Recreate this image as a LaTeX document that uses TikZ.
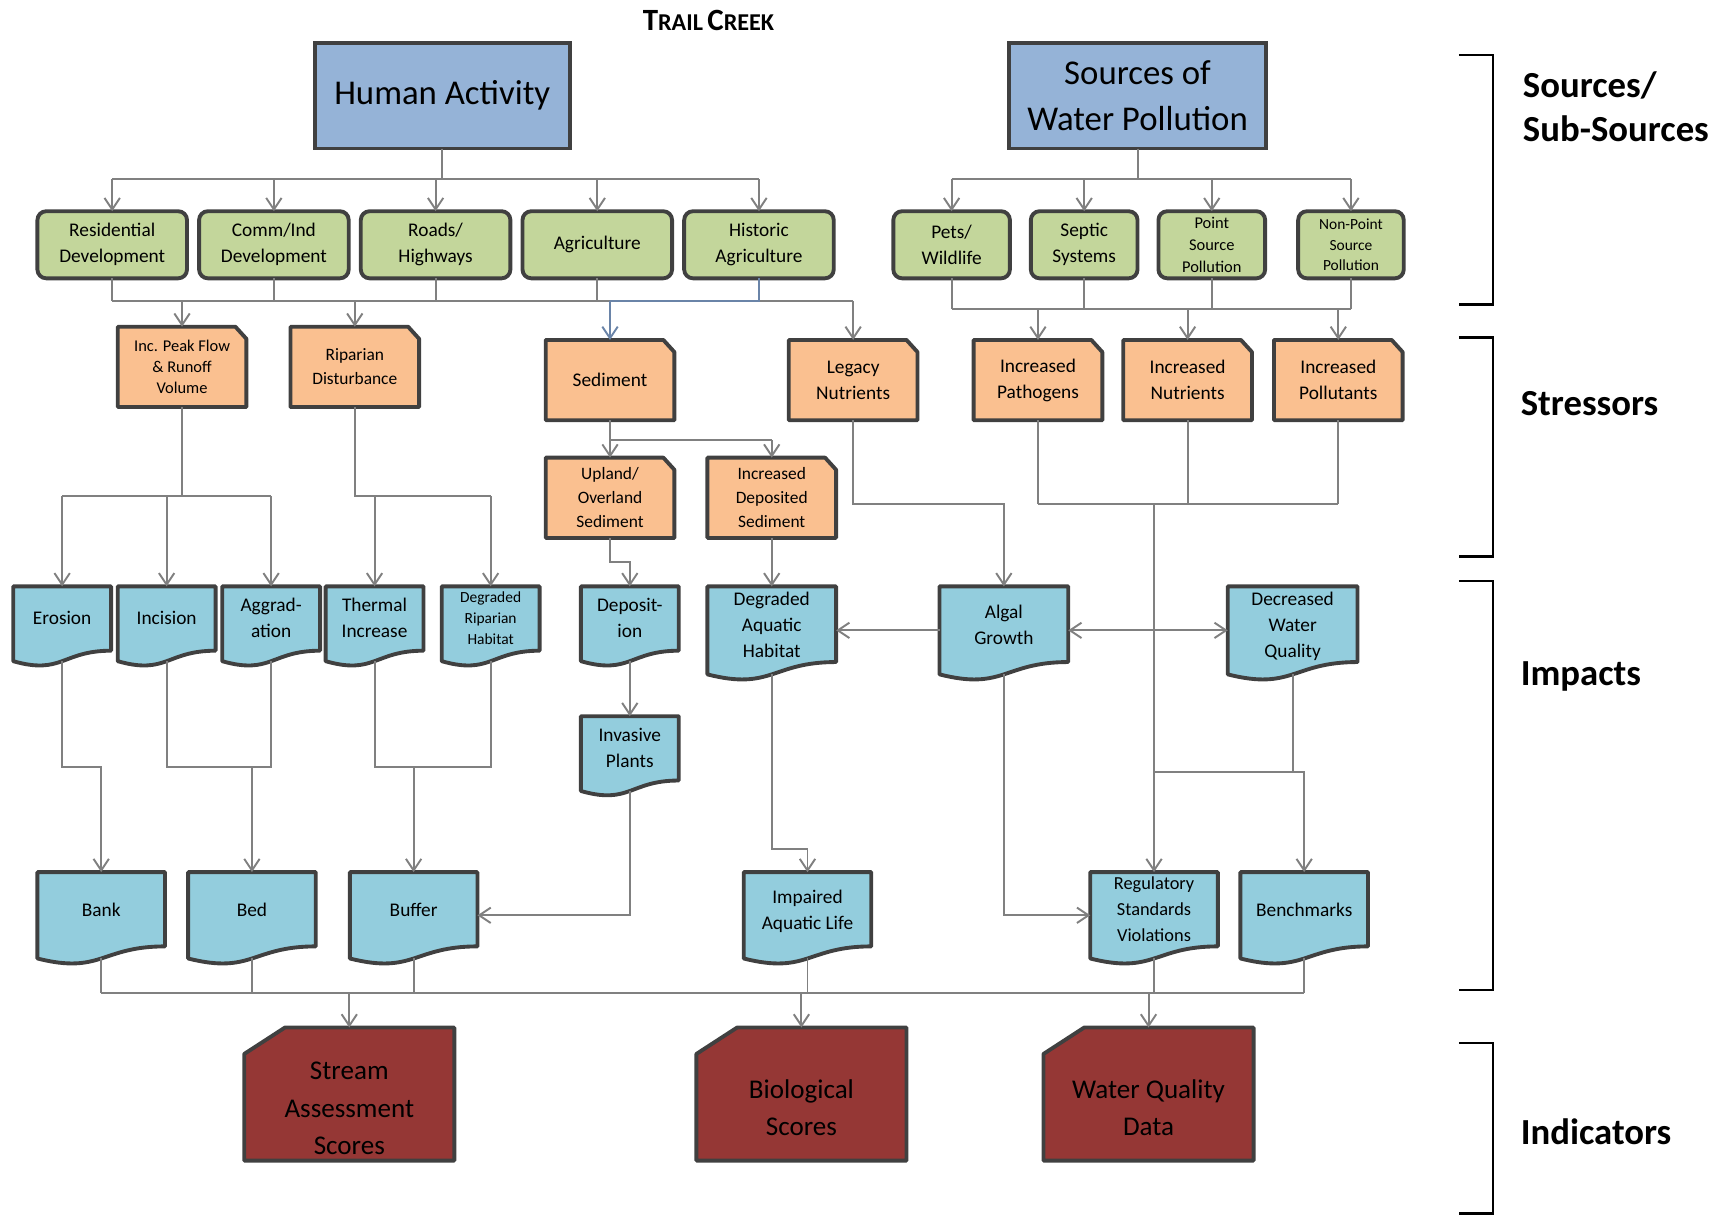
\documentclass[tikz,border=0pt]{standalone}
\usepackage{fontspec}
\setmainfont{Carlito}
\usepackage{tikz}
\usetikzlibrary{arrows.meta}
\usetikzlibrary{calc,backgrounds,positioning}

\definecolor{headblue}{HTML}{95B3D7}
\definecolor{subgreen}{HTML}{C3D69B}
\definecolor{stressorange}{HTML}{FAC090}
\definecolor{impactblue}{HTML}{93CDDD}
\definecolor{indred}{HTML}{953735}
\definecolor{boxline}{HTML}{404040}
\definecolor{linkgray}{HTML}{808080}
\definecolor{linkblue}{HTML}{6A84A8}

\newcommand{\redtop}{\rule{0pt}{24pt}}

\begin{document}
\begin{tikzpicture}[x=0.02cm,y=-0.02cm,>={Straight Barb[length=0.21cm,width=0.28cm]},node distance=0.22cm,
  box/.style={align=center,inner sep=1pt,outer sep=0pt},
  head/.style={box,draw=boxline,line width=2pt,fill=headblue,minimum width=4.64cm,minimum height=1.92cm,font=\fontsize{18}{24}\selectfont},
  sub/.style={box,draw=boxline,line width=2pt,fill=subgreen,rounded corners=0.16cm,minimum width=2.72cm,minimum height=1.22cm,font=\fontsize{10}{13.5}\selectfont},
  stress/.style={box,minimum width=2.34cm,minimum height=1.46cm,font=\fontsize{10}{13.5}\selectfont},
  impact/.style={box,minimum width=1.78cm,minimum height=1.36cm,font=\fontsize{10}{13.5}\selectfont,execute at end node={\rule[-6pt]{0pt}{6pt}}},
  bigimpact/.style={impact,minimum width=2.34cm,minimum height=1.6cm},
  rowtwo/.style={impact,minimum width=2.32cm,minimum height=1.57cm},
  indic/.style={box,minimum width=3.82cm,minimum height=2.42cm,font=\fontsize{14}{19.3}\selectfont},
  outline/.style={draw=boxline,line width=2pt,line join=round},
  link/.style={draw=linkgray,line width=1pt},
  flow/.style={link,->},
  bracket/.style={draw=black,line width=1.4pt},
  side/.style={anchor=west,align=left,inner sep=0pt,font=\fontsize{19}{23}\selectfont\bfseries}]

\useasboundingbox (0,0) rectangle (1568,1104);

\node[font=\bfseries] (title) at (644,19) {{\fontsize{16}{16}\selectfont T}{\fontsize{12.5}{16}\selectfont RAIL} {\fontsize{16}{16}\selectfont C}{\fontsize{12.5}{16}\selectfont REEK}};

% sources
\node[head] (ha) at (402,87) {Human Activity};
\node[head,minimum width=4.68cm] (swp) at (1034,87) {Sources of\\Water Pollution};

% sub-sources
\node[sub] (res) at (102,222.5) {Residential\\Development};
\node[sub,right=of res] (com) {Comm/Ind\\Development};
\node[sub,right=of com] (road) {Roads/\\Highways};
\node[sub,right=of road] (agr) {Agriculture};
\node[sub,right=of agr] (hist) {Historic\\Agriculture};
\node[sub,minimum width=2.12cm] (pets) at (865,222.5) {Pets/\\Wildlife};
\node[sub,minimum width=1.94cm] (sept) at (985.5,222.5) {Septic\\Systems};
\node[sub,minimum width=1.94cm,font=\fontsize{8.5}{11.3}\selectfont] (pnt) at (1101.5,222.5) {Point\\Source\\Pollution};
\node[sub,minimum width=1.92cm,font=\fontsize{8}{10.8}\selectfont] (npt) at (1228,222.5) {Non-Point\\Source\\Pollution};

% stressors
\node[stress,font=\fontsize{8.5}{10.8}\selectfont] (peak) at (165.5,333.5) {Inc. Peak Flow\\\& Runoff\\Volume};
\node[stress,font=\fontsize{9}{12.5}\selectfont] (rip) at (322.5,333.5) {Riparian\\Disturbance};
\node[stress] (sed) at (554.5,345.5) {Sediment};
\node[stress] (leg) at (775.5,345.5) {Legacy\\Nutrients};
\node[stress] (patho) at (943.5,345.5) {Increased\\Pathogens};
\node[stress] (nut) at (1079.5,345.5) {Increased\\Nutrients};
\node[stress] (pol) at (1216.5,345.5) {Increased\\Pollutants};
\node[stress,font=\fontsize{9}{12.5}\selectfont] (upl) at (554.5,452.5) {Upland/\\Overland\\Sediment};
\node[stress,font=\fontsize{9}{12.5}\selectfont] (dep) at (701.5,452.5) {Increased\\Deposited\\Sediment};

% impacts
\node[impact] (ero) at (56.5,567) {Erosion};
\node[impact,right=0.12cm of ero] (inci) {Incision};
\node[impact,right=0.12cm of inci] (aggr) {Aggrad-\\ation};
\node[impact,right=0.1cm of aggr] (therm) {Thermal\\Increase};
\node[impact,font=\fontsize{8}{10.8}\selectfont] (drh) at (446,567) {Degraded\\Riparian\\Habitat};
\node[impact] (depo) at (572.5,567) {Deposit-\\ion};
\node[impact] (inv) at (572.5,685) {Invasive\\Plants};
\node[bigimpact] (dah) at (701.5,573) {Degraded\\Aquatic\\Habitat};
\node[bigimpact] (alg) at (912.5,573) {Algal\\Growth};
\node[bigimpact,minimum width=2.36cm] (dwq) at (1175,573) {Decreased\\Water\\Quality};
\node[rowtwo] (bank) at (92,832) {Bank};
\node[rowtwo] (bed) at (229,832) {Bed};
\node[rowtwo] (buf) at (376,832) {Buffer};
\node[rowtwo] (imp) at (734,832) {Impaired\\Aquatic Life};
\node[rowtwo,font=\fontsize{9.5}{13.5}\selectfont] (reg) at (1049,832) {Regulatory\\Standards\\Violations};
\node[rowtwo] (bench) at (1185.5,832) {Benchmarks};

% indicators
\node[indic] (sas) at (317.5,994.5) {\redtop Stream\\Assessment\\Scores};
\node[indic] (bio) at (728.5,994.5) {\redtop Biological\\Scores};
\node[indic] (wqd) at (1044,994.5) {\redtop Water Quality\\Data};

% shapes behind the text
\begin{scope}[on background layer]
  \foreach \n in {peak,rip,sed,leg,patho,nut,pol,upl,dep}
    \filldraw[outline,fill=stressorange] (\n.north west) -- ([xshift=-0.2cm]\n.north east) -- ([yshift=-0.22cm]\n.north east) -- (\n.south east) -- (\n.south west) -- cycle;
  \foreach \n in {ero,inci,aggr,therm,drh,depo,inv,dah,alg,dwq,bank,bed,buf,imp,reg,bench}
    \filldraw[outline,fill=impactblue] (\n.north west) -- (\n.north east) -- ($(\n.north east)!0.86!(\n.south east)$) .. controls ($(\n.north)!0.86!(\n.south)$) and ($(\n.north)!1.187!(\n.south)$) .. (\n.south west) -- cycle;
  \foreach \n in {sas,bio,wqd}
    \filldraw[outline,fill=indred] ([yshift=-0.48cm]\n.north west) -- ([xshift=0.74cm]\n.north west) -- (\n.north east) -- (\n.south east) -- (\n.south west) -- cycle;
\end{scope}

% sources -> sub-sources
\coordinate (hbar) at (0,163);
\draw[link] (ha.south) -- (ha.south |- hbar);
\draw[link] (res.north |- hbar) -- (hist.north |- hbar);
\foreach \n in {res,com,road,agr,hist}
  \draw[flow] (\n.north |- hbar) -- (\n.north);
\draw[link] (swp.south) -- (swp.south |- hbar);
\draw[link] (pets.north |- hbar) -- (npt.north |- hbar);
\foreach \n in {pets,sept,pnt,npt}
  \draw[flow] (\n.north |- hbar) -- (\n.north);

% sub-sources -> stressors
\coordinate (lbar) at (0,274);
\foreach \n in {res,com,road,agr}
  \draw[link] (\n.south) -- (\n.south |- lbar);
\draw[link] (res.south |- lbar) -- (leg.north |- lbar);
\draw[link,draw=linkblue] (hist.south) -- (hist.south |- lbar) -- (sed.north |- lbar);
\foreach \n in {peak,rip,leg}
  \draw[flow] (\n.north |- lbar) -- (\n.north);
\draw[flow,draw=linkblue] (sed.north |- lbar) -- (sed.north);
\coordinate (rbar) at (0,281);
\foreach \n in {pets,sept,pnt,npt}
  \draw[link] (\n.south) -- (\n.south |- rbar);
\draw[link] (pets.south |- rbar) -- (npt.south |- rbar);
\foreach \n in {patho,nut,pol}
  \draw[flow] (\n.north |- rbar) -- (\n.north);
\coordinate (sbar) at (0,400);
\draw[link] (sed.south) -- (sed.south |- sbar) -- (dep.north |- sbar);
\draw[flow] (sed.south |- sbar) -- (upl.north);
\draw[flow] (dep.north |- sbar) -- (dep.north);

% stressors -> impacts
\coordinate (kbar) at (0,451);
\draw[link] (peak.south) -- (peak.south |- kbar);
\draw[link] (ero.north |- kbar) -- (aggr.north |- kbar);
\foreach \n in {ero,inci,aggr}
  \draw[flow] (\n.north |- kbar) -- (\n.north);
\draw[link] (rip.south) |- (drh.north |- kbar);
\draw[link] (therm.north |- kbar) -- (rip.south |- kbar);
\foreach \n in {therm,drh}
  \draw[flow] (\n.north |- kbar) -- (\n.north);
\draw[flow] (upl.south) -- ++(0,22) -| (depo.north);
\draw[flow] (dep.south) -- (dah.north);
\coordinate (nbar) at (0,458);
\draw[flow] (leg.south) -- (leg.south |- nbar) -| (alg.north);
\foreach \n in {patho,nut,pol}
  \draw[link] (\n.south) -- (\n.south |- nbar);
\draw[link] (patho.south |- nbar) -- (pol.south |- nbar);
\draw[flow] (reg.north |- nbar) -- (reg.north);

% among the impacts
\draw[flow] (alg.west) -- (dah.east);
\draw[link,<->] (alg.east) -- (dwq.west);
\draw[flow] (depo.south) -- (inv.north);
\draw[flow] (inv.south) |- (buf.east);
\coordinate (ibar) at (0,697);
\draw[flow] (ero.south) -- (ero.south |- ibar) -| (bank.north);
\draw[link] (inci.south) -- (inci.south |- ibar) -- (aggr.south |- ibar) -- (aggr.south);
\draw[flow] (bed.north |- ibar) -- (bed.north);
\draw[link] (therm.south) -- (therm.south |- ibar) -- (drh.south |- ibar) -- (drh.south);
\draw[flow] (buf.north |- ibar) -- (buf.north);
\coordinate (abar) at (0,772);
\draw[flow] (dah.south) -- (dah.south |- abar) -| (imp.north);
\draw[flow] (alg.south) |- (reg.west);
\coordinate (wbar) at (0,702);
\draw[link] (dwq.south) -- (dwq.south |- wbar);
\draw[flow] (reg.north |- wbar) -| (bench.north);

% impacts -> indicators
\coordinate (xbar) at (0,903);
\foreach \n in {bank,bed,buf,imp,reg,bench}
  \draw[link] (\n.south) -- (\n.south |- xbar);
\draw[link] (bank.south |- xbar) -- (bench.south |- xbar);
\foreach \n in {sas,bio,wqd}
  \draw[flow] (\n.north |- xbar) -- (\n.north);

% levels
\draw[bracket] (1326,50) -- (1357,50) -- (1357,277) -- (1326,277);
\draw[bracket] (1326,307) -- (1357,307) -- (1357,506) -- (1326,506);
\draw[bracket] (1326,528) -- (1357,528) -- (1357,900) -- (1326,900);
\draw[bracket] (1326,948) -- (1357,948) -- (1357,1103) -- (1326,1103);
\node[side] (lsrc) at (1384,97) {Sources/\\Sub-Sources};
\node[side] (lstr) at (1382,367) {Stressors};
\node[side] (limp) at (1382,615) {Impacts};
\node[side] (lind) at (1382,1029) {Indicators};

\end{tikzpicture}
\end{document}
